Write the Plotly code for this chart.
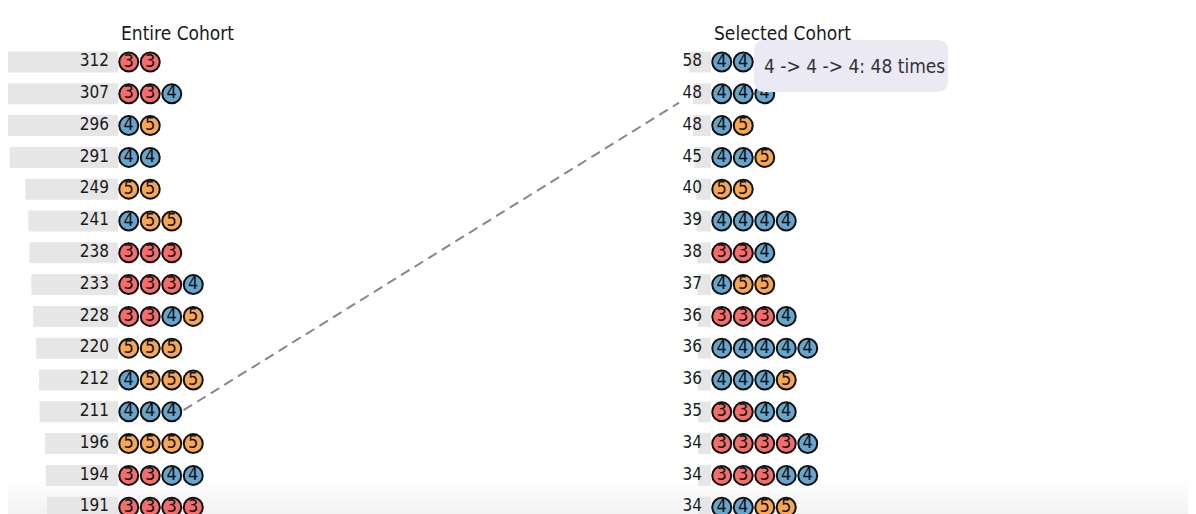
import plotly.graph_objects as go

# ---- data -------------------------------------------------------------
entire_counts = [312, 307, 296, 291, 249, 241, 238, 233, 228, 220, 212, 211, 196, 194, 191]
entire_seqs = ["33", "334", "45", "44", "55", "455", "333", "3334", "3345",
               "555", "4555", "444", "5555", "3344", "3333"]

selected_counts = [58, 48, 48, 45, 40, 39, 38, 37, 36, 36, 36, 35, 34, 34, 34]
selected_seqs = ["44", "444", "45", "445", "55", "4444", "334", "455", "3334",
                 "44444", "4445", "3344", "33334", "33344", "4455"]

highlight_seq = "444"
highlight_count = 48

rating_colors = {"3": "#f46d6a", "4": "#65a6cf", "5": "#f8a64f"}

# ---- geometry (page pixels; the page body adds an 8px offset) ----------
W, H = 1196, 514
OFF = 8                  # browser default body margin
PX_PER_COUNT = 0.372     # bar length per sequence count
SLOT = 21.5              # spacing between rating circles
ROW_PX = 31.8            # row pitch in pixels
TOP_ROW_PX = 62          # centre of first row (page)
LEFT_END = 118           # bars end / circles start (entire cohort)
RIGHT_END = 711          # bars end / circles start (selected cohort)

FONT = "Liberation Sans Narrow, DejaVu Sans Condensed, sans-serif"


def paper_x(px):
    return (px - OFF) / W


def paper_y(py):
    return 1 - (py - OFF) / H


fig = go.Figure()


def add_column(counts, seqs, end_x):
    rows = list(range(len(counts)))
    fig.add_trace(go.Bar(
        orientation="h", y=rows,
        x=[c * PX_PER_COUNT for c in counts],
        base=[end_x - c * PX_PER_COUNT for c in counts],
        width=0.66, marker=dict(color="#e6e6e6", line_width=0),
        hoverinfo="skip", showlegend=False,
    ))
    fig.add_trace(go.Scatter(
        x=[end_x - 9] * len(counts), y=rows, mode="text",
        text=[str(c) for c in counts], textposition="middle left",
        textfont=dict(family=FONT, size=17, color="#1a1a1a"),
        hoverinfo="skip", showlegend=False,
    ))
    xs, ys, labels, colors = [], [], [], []
    for r, seq in enumerate(seqs):
        for i, ch in enumerate(seq):
            xs.append(end_x + SLOT * (i + 0.5))
            ys.append(r)
            labels.append(ch)
            colors.append(rating_colors[ch])
    fig.add_trace(go.Scatter(
        x=xs, y=ys, mode="markers+text", text=labels,
        textposition="middle center",
        textfont=dict(family=FONT, size=18, color="#111"),
        marker=dict(size=19, color=colors, line=dict(color="#111", width=2)),
        hoverinfo="skip", showlegend=False,
    ))


add_column(entire_counts, entire_seqs, LEFT_END)
add_column(selected_counts, selected_seqs, RIGHT_END)

# dashed link between the highlighted sequence in both cohorts
li = entire_seqs.index(highlight_seq)
ri = selected_seqs.index(highlight_seq)
fig.add_trace(go.Scatter(
    x=[LEFT_END + SLOT * len(highlight_seq) + 1, RIGHT_END - 32],
    y=[li - 0.05, ri + 0.28], mode="lines",
    line=dict(color="#888", width=2, dash="10px,6px"),
    hoverinfo="skip", showlegend=False,
))

# column headers
for text, x0 in [("Entire Cohort", LEFT_END + 1), ("Selected Cohort", RIGHT_END + 1)]:
    fig.add_annotation(
        x=paper_x(x0), y=paper_y(33), xref="paper", yref="paper",
        text=text, showarrow=False, xanchor="left", yanchor="middle",
        font=dict(family=FONT, size=19, color="#1a1a1a"),
    )

# tooltip box with rounded corners
x0, x1, y0, y1, rad = 754, 948, 40, 92, 11
X = paper_x
Y = paper_y
path = (f"M {X(x0 + rad)},{Y(y0)} L {X(x1 - rad)},{Y(y0)} "
        f"Q {X(x1)},{Y(y0)} {X(x1)},{Y(y0 + rad)} L {X(x1)},{Y(y1 - rad)} "
        f"Q {X(x1)},{Y(y1)} {X(x1 - rad)},{Y(y1)} L {X(x0 + rad)},{Y(y1)} "
        f"Q {X(x0)},{Y(y1)} {X(x0)},{Y(y1 - rad)} L {X(x0)},{Y(y0 + rad)} "
        f"Q {X(x0)},{Y(y0)} {X(x0 + rad)},{Y(y0)} Z")
fig.add_shape(type="path", path=path, xref="paper", yref="paper",
              fillcolor="#ebe9f3", line_width=0, layer="above")
fig.add_annotation(
    x=paper_x(762), y=paper_y(66), xref="paper", yref="paper",
    text=f"{' -> '.join(highlight_seq)}: {highlight_count} times",
    showarrow=False, xanchor="left", yanchor="middle",
    font=dict(family=FONT, size=19, color="#333"),
)

# faint, gradual fade at the bottom edge
for k in range(12):
    fig.add_shape(type="rect", xref="paper", yref="paper",
                  x0=0, x1=1, y0=paper_y(H + OFF), y1=paper_y(478 + k * 3),
                  fillcolor="#f0f0f0", opacity=0.07, line_width=0, layer="below")

fig.update_layout(
    width=W, height=H,
    margin=dict(l=0, r=0, t=0, b=0),
    paper_bgcolor="white", plot_bgcolor="white",
    barmode="overlay",
    xaxis=dict(range=[OFF, W + OFF], visible=False, fixedrange=True),
    yaxis=dict(range=[(H + OFF - TOP_ROW_PX) / ROW_PX, -(TOP_ROW_PX - OFF) / ROW_PX],
               visible=False, fixedrange=True),
    showlegend=False,
)

fig.write_html("out.html")
